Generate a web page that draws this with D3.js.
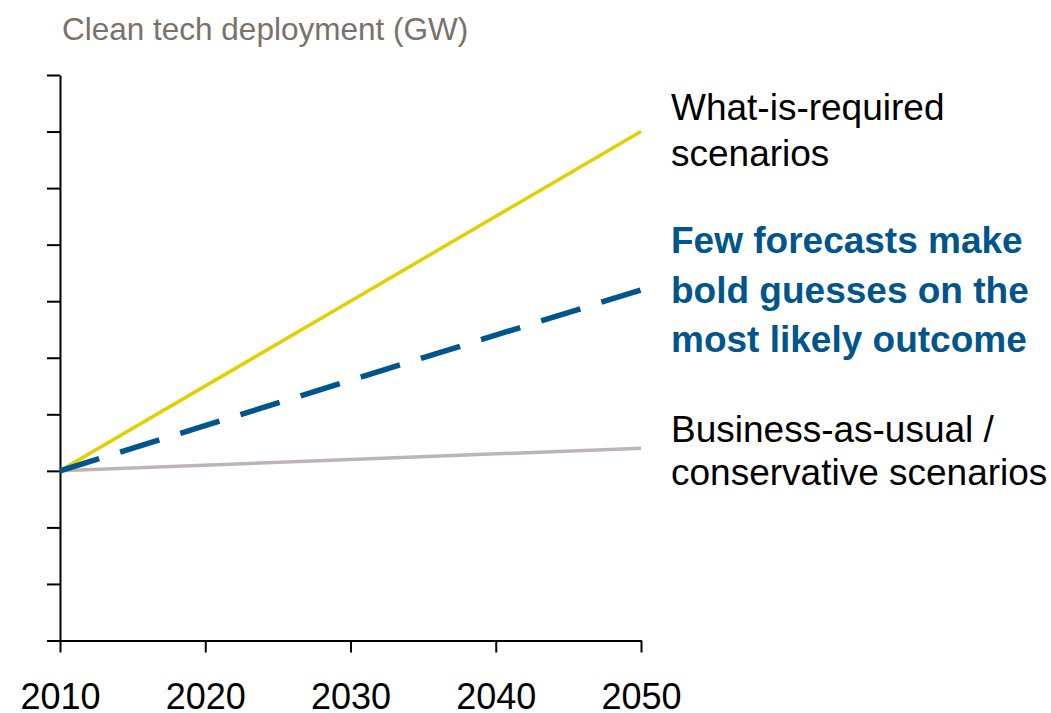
<!DOCTYPE html>
<html>
<head>
<meta charset="utf-8">
<script src="https://cdn.jsdelivr.net/npm/d3@7"></script>
<style>
  body { margin: 0; background: #fff; }
  svg text { font-family: "Liberation Sans", Arial, sans-serif; }
</style>
</head>
<body>
<svg width="1051" height="713"></svg>
<script>
const svg = d3.select('svg')

// data
const years = [2010, 2050]
const yearTicks = [2010, 2020, 2030, 2040, 2050]
const valueTicks = [0, 1, 2, 3, 4, 5, 6, 7, 8, 9, 10]
const required = [3, 9]
const likely = [3, 6.2]
const businessAsUsual = [3, 3.4]

const x = d3.scaleLinear().domain([2010, 2050]).range([60, 641])
const y = d3.scaleLinear().domain([0, 10]).range([640.5, 75])

// title
svg.append('text')
  .attr('x', 62)
  .attr('y', 40)
  .attr('fill', '#7b716b')
  .style('font-size', '31.5px')
  .text('Clean tech deployment (GW)')

// y axis
const yAxis = svg.append('g')
  .attr('transform', `translate(${x(2010)},0)`)
  .call(d3.axisLeft(y).tickValues(valueTicks).tickSize(13).tickSizeOuter(0).tickFormat(''))
yAxis.selectAll('path, line').attr('stroke', '#000').attr('stroke-width', 2)

// x axis
const xAxis = svg.append('g')
  .attr('transform', `translate(0,${y(0)})`)
  .call(d3.axisBottom(x).tickValues(yearTicks).tickSize(12).tickSizeOuter(0).tickFormat(d3.format('d')))
xAxis.selectAll('path, line').attr('stroke', '#000').attr('stroke-width', 2)
xAxis.selectAll('text')
  .attr('y', 68)
  .attr('dy', null)
  .attr('fill', '#000')
  .style('font-size', '36px')

const line = d3.line()
  .x((d, i) => x(years[i]))
  .y(d => y(d))

svg.append('path')
  .datum(businessAsUsual)
  .attr('d', line)
  .attr('fill', 'none')
  .attr('stroke', '#bdb5b1')
  .attr('stroke-width', 3.5)

svg.append('path')
  .datum(required)
  .attr('d', line)
  .attr('fill', 'none')
  .attr('stroke', '#e3cf00')
  .attr('stroke-width', 3.5)

svg.append('path')
  .datum(likely)
  .attr('d', line)
  .attr('fill', 'none')
  .attr('stroke', '#00558c')
  .attr('stroke-width', 5.5)
  .attr('stroke-dasharray', '41,22')

// annotations
const notes = [
  { lines: ['What-is-required', 'scenarios'], y: 120, color: '#000', weight: 'normal', gap: 46 },
  { lines: ['Few forecasts make', 'bold guesses on the', 'most likely outcome'], y: 253, color: '#00558c', weight: 'bold', gap: 49.5 },
  { lines: ['Business-as-usual /', 'conservative scenarios'], y: 442, color: '#000', weight: 'normal', gap: 43 },
]

notes.forEach(n => {
  const t = svg.append('text')
    .attr('x', 671)
    .attr('y', n.y)
    .attr('fill', n.color)
    .style('font-size', '37px')
    .style('font-weight', n.weight)
  t.selectAll('tspan')
    .data(n.lines)
    .enter()
    .append('tspan')
    .attr('x', 671)
    .attr('dy', (d, i) => i === 0 ? 0 : n.gap)
    .text(d => d)
})
</script>
</body>
</html>
